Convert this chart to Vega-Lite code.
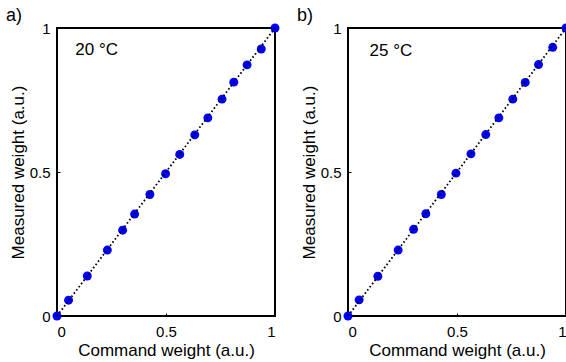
{
  "$schema": "https://vega.github.io/schema/vega-lite/v6.json",
  "padding": {"left": 5, "top": 6, "right": 0, "bottom": 0},
  "background": "white",
  "spacing": 15,
  "config": {
    "font": "Liberation Sans",
    "view": {"stroke": "black", "strokeWidth": 2},
    "axis": {
      "grid": false,
      "domain": false,
      "ticks": true,
      "tickSize": -3,
      "tickColor": "black",
      "tickWidth": 1,
      "labelFontSize": 15,
      "labelColor": "black",
      "titleFontSize": 17,
      "titleFontWeight": "normal",
      "titleColor": "black",
      "labelAngle": 0
    },
    "title": {"fontSize": 18, "fontWeight": "normal", "anchor": "start", "frame": "group", "color": "black"}
  },
  "datasets": {
    "a": [
      {"command": 0, "measured": 0},
      {"command": 0.053, "measured": 0.055},
      {"command": 0.139, "measured": 0.139},
      {"command": 0.231, "measured": 0.229},
      {"command": 0.301, "measured": 0.298},
      {"command": 0.356, "measured": 0.354},
      {"command": 0.426, "measured": 0.422},
      {"command": 0.498, "measured": 0.494},
      {"command": 0.563, "measured": 0.561},
      {"command": 0.632, "measured": 0.629},
      {"command": 0.692, "measured": 0.688},
      {"command": 0.757, "measured": 0.753},
      {"command": 0.811, "measured": 0.812},
      {"command": 0.872, "measured": 0.872},
      {"command": 0.937, "measured": 0.927},
      {"command": 1, "measured": 1}
    ],
    "b": [
      {"command": 0, "measured": 0},
      {"command": 0.051, "measured": 0.056},
      {"command": 0.137, "measured": 0.138},
      {"command": 0.23, "measured": 0.229},
      {"command": 0.301, "measured": 0.301},
      {"command": 0.357, "measured": 0.355},
      {"command": 0.428, "measured": 0.422},
      {"command": 0.495, "measured": 0.496},
      {"command": 0.564, "measured": 0.563},
      {"command": 0.632, "measured": 0.63},
      {"command": 0.692, "measured": 0.688},
      {"command": 0.756, "measured": 0.753},
      {"command": 0.813, "measured": 0.811},
      {"command": 0.874, "measured": 0.873},
      {"command": 0.939, "measured": 0.933},
      {"command": 1, "measured": 1}
    ],
    "diag": [
      {"command": 0, "measured": 0},
      {"command": 1, "measured": 1}
    ],
    "one": [{}]
  },
  "hconcat": [
    {
      "width": 218,
      "height": 288,
      "title": {"text": "a)", "dx": -51, "offset": -4},
      "layer": [
        {
          "data": {"name": "a"},
          "mark": {"type": "circle", "color": "#0000ff", "opacity": 1, "size": 80},
          "encoding": {
            "x": {"field": "command", "type": "quantitative", "scale": {"domain": [0, 1]},
              "axis": {"values": [0, 0.5, 1], "labelExpr": "'' + datum.value", "title": "Command weight (a.u.)", "labelPadding": 11, "titlePadding": 3}},
            "y": {"field": "measured", "type": "quantitative", "scale": {"domain": [0, 1]},
              "axis": {"values": [0, 0.5, 1], "labelExpr": "'' + datum.value", "title": "Measured weight (a.u.)", "labelPadding": 10, "titlePadding": 2}}
          }
        },
        {
          "data": {"name": "diag"},
          "mark": {"type": "line", "color": "black", "strokeWidth": 1.8, "strokeDash": [1.6, 2.4]},
          "encoding": {
            "x": {"field": "command", "type": "quantitative"},
            "y": {"field": "measured", "type": "quantitative"}
          }
        },
        {
          "data": {"name": "one"},
          "mark": {"type": "text", "text": "20 °C", "align": "left", "baseline": "middle", "fontSize": 17, "color": "black"},
          "encoding": {
            "x": {"datum": 0.084, "type": "quantitative"},
            "y": {"datum": 0.925, "type": "quantitative"}
          }
        }
      ]
    },
    {
      "width": 218,
      "height": 288,
      "title": {"text": "b)", "dx": -51, "offset": -4},
      "layer": [
        {
          "data": {"name": "b"},
          "mark": {"type": "circle", "color": "#0000ff", "opacity": 1, "size": 80},
          "encoding": {
            "x": {"field": "command", "type": "quantitative", "scale": {"domain": [0, 1]},
              "axis": {"values": [0, 0.5, 1], "labelExpr": "'' + datum.value", "title": "Command weight (a.u.)", "labelPadding": 11, "titlePadding": 3}},
            "y": {"field": "measured", "type": "quantitative", "scale": {"domain": [0, 1]},
              "axis": {"values": [0, 0.5, 1], "labelExpr": "'' + datum.value", "title": "Measured weight (a.u.)", "labelPadding": 10, "titlePadding": 2}}
          }
        },
        {
          "data": {"name": "diag"},
          "mark": {"type": "line", "color": "black", "strokeWidth": 1.8, "strokeDash": [1.6, 2.4]},
          "encoding": {
            "x": {"field": "command", "type": "quantitative"},
            "y": {"field": "measured", "type": "quantitative"}
          }
        },
        {
          "data": {"name": "one"},
          "mark": {"type": "text", "text": "25 °C", "align": "left", "baseline": "middle", "fontSize": 17, "color": "black"},
          "encoding": {
            "x": {"datum": 0.099, "type": "quantitative"},
            "y": {"datum": 0.92, "type": "quantitative"}
          }
        }
      ]
    }
  ]
}
